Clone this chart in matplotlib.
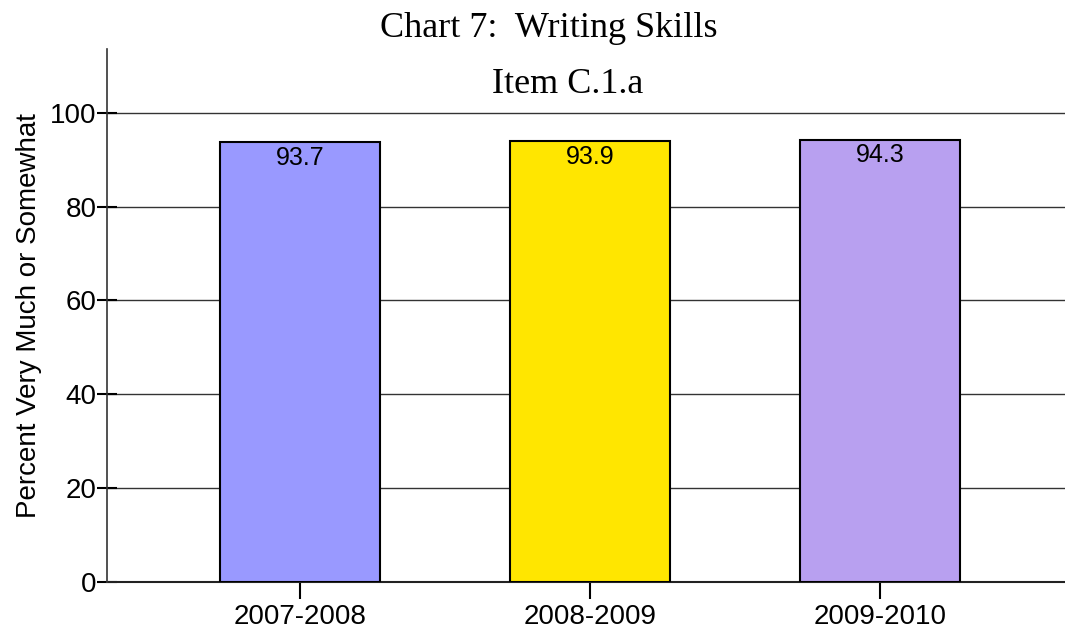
import matplotlib
matplotlib.use("Agg")
import matplotlib.pyplot as plt

years = ["2007-2008", "2008-2009", "2009-2010"]
values = [93.7, 93.9, 94.3]
colors = ["#9999ff", "#ffe600", "#b8a0f0"]
yticks = [0, 20, 40, 60, 80, 100]

fig = plt.figure(figsize=(10.65, 6.32), dpi=100)
ax = fig.add_axes([0.1005, 0.0791, 0.8995, 0.8434])

x = range(len(years))
bars = ax.bar(x, values, width=0.552, color=colors, edgecolor="black", linewidth=1.5, zorder=3)
for b, v in zip(bars, values):
    ax.text(b.get_x() + b.get_width() / 2, v - 0.8, f"{v:.1f}", ha="center", va="top",
            fontsize=18, family="Liberation Sans", zorder=4)

ax.set_xlim(-0.666, 2.638)
ax.set_ylim(0, 113.6)
ax.set_yticks(yticks)
ax.set_xticks(list(x))
ax.set_xticklabels(years)
ax.yaxis.grid(True, color="#333333", linewidth=1.0, zorder=0)
ax.axhline(0, color="#222222", linewidth=1.5, clip_on=False, zorder=2)

for s in ["top", "right", "bottom"]:
    ax.spines[s].set_visible(False)
ax.spines["left"].set_color("#333333")
ax.spines["left"].set_linewidth(1.2)

ax.tick_params(axis="y", direction="inout", length=15, width=1.5, labelsize=20, pad=0)
ax.tick_params(axis="x", direction="out", length=12, width=1.5, labelsize=20, pad=4)
for lab in ax.get_xticklabels() + ax.get_yticklabels():
    lab.set_family("Liberation Sans")

ax.set_ylabel("Percent Very Much or Somewhat", fontsize=20, family="Liberation Sans", labelpad=6)

fig.text(0.515, 0.955, "Chart 7:  Writing Skills", ha="center", va="center",
         fontsize=26, family="Liberation Serif")
fig.text(0.533, 0.866, "Item C.1.a", ha="center", va="center",
         fontsize=26, family="Liberation Serif")

fig.savefig("out.png", dpi=100)
